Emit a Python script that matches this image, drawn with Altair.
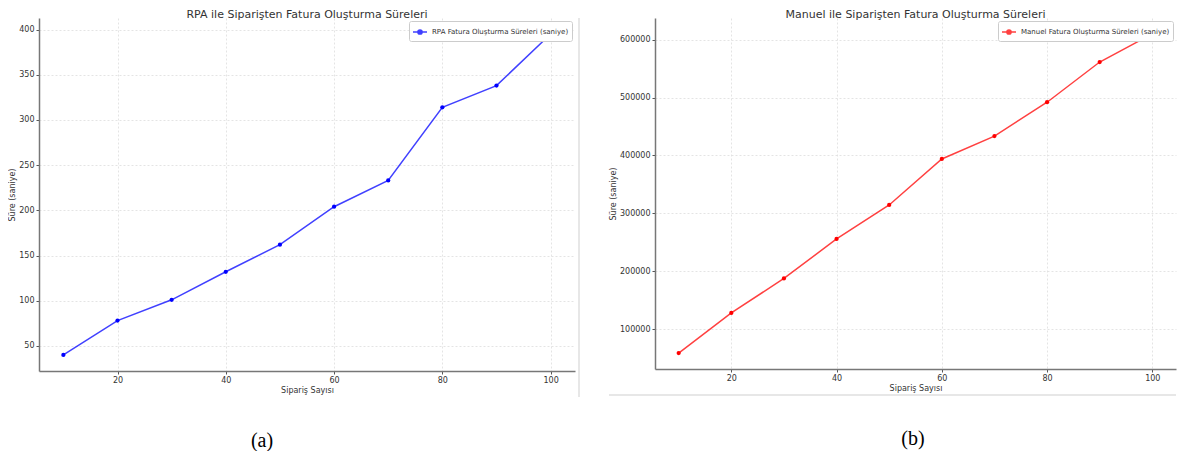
import altair as alt
import pandas as pd

# ---- data ----
siparis = [10, 20, 30, 40, 50, 60, 70, 80, 90, 100]
rpa_sure = [40, 78, 101, 132, 162, 204, 233, 314, 338, 395]
manuel_sure = [58600, 128000, 187500, 255800, 314500, 394000, 433500, 492000, 561500, 610000]

x_ticks = [20, 40, 60, 80, 100]
rpa_y_ticks = [50, 100, 150, 200, 250, 300, 350, 400]
man_y_ticks = [100000, 200000, 300000, 400000, 500000, 600000]

rpa_label = "RPA Fatura Oluşturma Süreleri (saniye)"
man_label = "Manuel Fatura Oluşturma Süreleri (saniye)"
rpa_title = "RPA ile Siparişten Fatura Oluşturma Süreleri"
man_title = "Manuel ile Siparişten Fatura Oluşturma Süreleri"
x_title = "Sipariş Sayısı"
y_title = "Süre (saniye)"

FONT = "DejaVu Sans"
LEG_SYMBOL = "M-1,0H1M-0.3,0A0.3,0.3,0,1,1,0.3,0A0.3,0.3,0,1,1,-0.3,0Z"


def pad_domain(vals):
    lo, hi = min(vals), max(vals)
    m = (hi - lo) * 0.05
    return [lo - m, hi + m]


def panel(xs, ys, label, color, title, y_ticks, caption, width, height,
          y_extent, cap_x, border):
    df = pd.DataFrame({"x": xs, "y": ys, "s": [label] * len(xs)})
    xsc = alt.Scale(domain=pad_domain(xs), nice=False, zero=False)
    ysc = alt.Scale(domain=pad_domain(ys), nice=False, zero=False)
    xax = alt.Axis(values=x_ticks, title=x_title, format="d")
    yax = alt.Axis(values=y_ticks, title=y_title, format="d",
                   minExtent=y_extent, maxExtent=y_extent)
    col = alt.Color("s:N", scale=alt.Scale(domain=[label], range=[color]),
                    legend=alt.Legend(title=None, orient="top-right",
                                      symbolType=LEG_SYMBOL, symbolSize=196,
                                      symbolStrokeWidth=1.5,
                                      symbolFillColor=color,
                                      symbolStrokeColor=color,
                                      labelFontSize=7, labelFont=FONT,
                                      labelColor="#333", padding=3,
                                      offset=3, strokeColor="#cccccc",
                                      fillColor="white", cornerRadius=2))
    base = alt.Chart(df)
    line = base.mark_line(strokeWidth=1.5, opacity=0.75).encode(
        x=alt.X("x:Q", scale=xsc, axis=xax),
        y=alt.Y("y:Q", scale=ysc, axis=yax),
        color=col,
    )
    pts = base.mark_point(filled=True, size=18, opacity=1).encode(
        x="x:Q", y="y:Q", color=col)
    cap = alt.Chart(pd.DataFrame({"c": [caption]})).mark_text(
        font="Liberation Serif", fontSize=20, color="black"
    ).encode(text="c:N", x=alt.value(cap_x), y=alt.value(height + 70))
    layers = [line, pts, cap]
    bdf = pd.DataFrame({"b": [0]})
    if border == "right":
        layers.append(alt.Chart(bdf).mark_rule(color="#cfcfcf", strokeWidth=1).encode(
            x=alt.value(width + 4), y=alt.value(0), y2=alt.value(height + 26)))
    else:
        layers.append(alt.Chart(bdf).mark_rule(color="#cfcfcf", strokeWidth=1).encode(
            x=alt.value(-46), x2=alt.value(width), y=alt.value(height + 26)))
    return alt.layer(*layers).properties(
        width=width, height=height,
        title=alt.TitleParams(title, fontSize=11, font=FONT, color="#333",
                              fontWeight="normal", frame="group", offset=-2),
    )


left = panel(siparis, rpa_sure, rpa_label, "#0000ff", rpa_title, rpa_y_ticks,
             "(a)", 536, 353, 20, 223, "right")
right = panel(siparis, manuel_sure, man_label, "#ff0000", man_title, man_y_ticks,
              "(b)", 521, 351, 35, 258, "bottom")

chart = alt.hconcat(left, right, spacing=28).resolve_scale(
    color="independent", x="independent", y="independent"
).properties(padding={"left": 0, "top": 0, "right": 0, "bottom": 0}).configure_view(
    stroke=None
).configure_axis(
    labelFont=FONT, labelFontSize=8, labelColor="#333",
    titleFont=FONT, titleFontSize=8, titleColor="#333", titleFontWeight="normal",
    tickSize=3, tickColor="#555", labelPadding=2, titlePadding=3,
    domainColor="#777", domainWidth=1.5,
    gridColor="#dddddd", gridDash=[2, 2], gridWidth=0.8,
).configure_axisX(titlePadding=2)

chart.save("out.html", embed_options={"renderer": "svg", "actions": False})
